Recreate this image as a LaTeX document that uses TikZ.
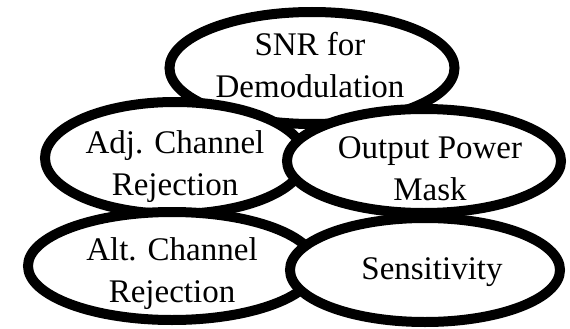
\documentclass[tikz,border=0pt]{standalone}
\usepackage{fontspec}
\setmainfont{Liberation Serif}
\usetikzlibrary{shapes.geometric}
\begin{document}
\begin{tikzpicture}[x=1pt,y=-1pt,
  bubble/.style={ellipse, draw=black, fill=white, line width=10pt, inner sep=0pt},
  caption/.style={align=center, font=\fontsize{33}{42}\selectfont, inner sep=0pt, text=black}]
\useasboundingbox (0,0) rectangle (570,329);
\fill[white] (0,0) rectangle (570,329);

% top bubble
\node[bubble, minimum width=285pt, minimum height=112pt] (snr) at (312,68) {};
\node[caption] (snrtext) at (310,65) {SNR for\\Demodulation};

% middle row
\node[bubble, minimum width=260pt, minimum height=112pt] (adj) at (175,158) {};
\node[caption] (adjtext) at (175,167) {Adj. Channel\\Rejection};

\node[bubble, minimum width=274pt, minimum height=104pt] (mask) at (424,161) {};
\node[caption] (masktext) at (430,169) {Output Power\\Mask};

% bottom row
\node[bubble, minimum width=288pt, minimum height=108pt] (alt) at (172,266) {};
\node[caption] (alttext) at (172,274) {Alt. Channel\\Rejection};

\node[bubble, minimum width=270pt, minimum height=104pt] (sens) at (425,270) {};
\node[caption] (senstext) at (432,272) {Sensitivity};
\end{tikzpicture}
\end{document}
